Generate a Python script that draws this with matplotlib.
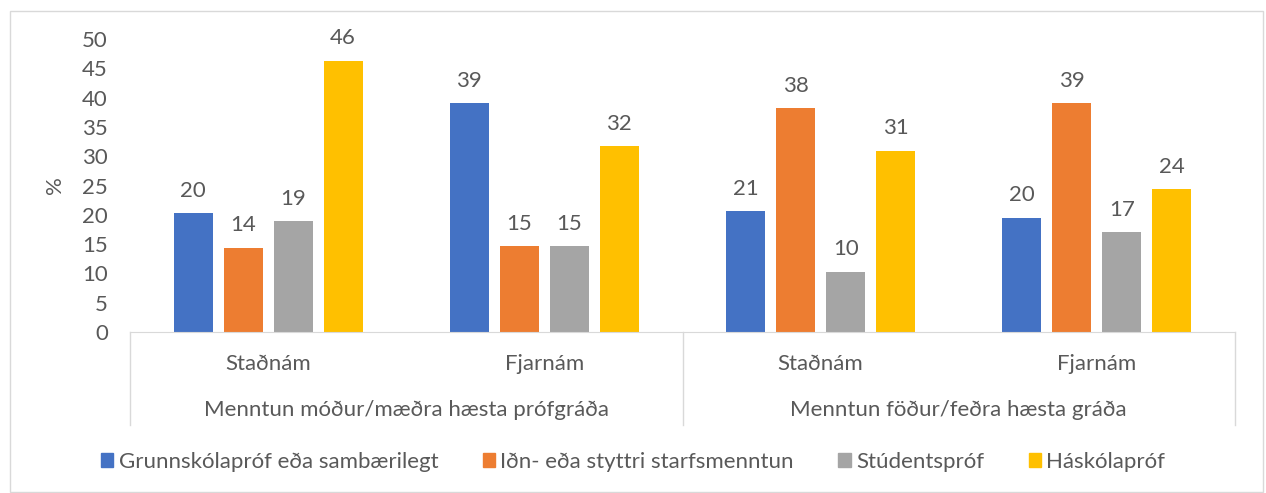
import numpy as np
import matplotlib.pyplot as plt
from matplotlib.patches import Rectangle, Patch

plt.rcParams['font.family'] = ['Lato', 'DejaVu Sans']

subgroups = ['Staðnám', 'Fjarnám', 'Staðnám', 'Fjarnám']
groups = ['Menntun móður/mæðra hæsta prófgráða', 'Menntun föður/feðra hæsta gráða']
series = ['Grunnskólapróf eða sambærilegt', 'Iðn- eða styttri starfsmenntun',
          'Stúdentspróf', 'Háskólapróf']
grunnskola = [20.3, 39.0, 20.6, 19.5]
idn = [14.4, 14.6, 38.2, 39.0]
studentsprof = [18.9, 14.6, 10.3, 17.0]
haskola = [46.3, 31.7, 30.9, 24.4]
colors = ['#4472C4', '#ED7D31', '#A5A5A5', '#FFC000']
txt = '#595959'
line_c = '#D9D9D9'
fs = 16

W, H = 1266, 493
fig = plt.figure(figsize=(W / 100, H / 100), dpi=100)
fig.patches.append(Rectangle((10 / W, 1 / H), 1253 / W, 481 / H, transform=fig.transFigure,
                             fill=False, edgecolor=line_c, linewidth=1))

ax = fig.add_axes([130 / W, 1 - 332 / H, 1105 / W, 293 / H])
x = np.arange(len(subgroups))
step = 0.181
width = 0.141
values = [grunnskola, idn, studentsprof, haskola]
for i, (vals, c) in enumerate(zip(values, colors)):
    pos = x + (i - 1.5) * step
    bars = ax.bar(pos, vals, width, color=c, label=series[i])
    for b, v in zip(bars, vals):
        ax.annotate(f'{v:.0f}', (b.get_x() + b.get_width() / 2, v), xytext=(0, 9),
                    textcoords='offset points', ha='center', va='bottom', fontsize=fs, color=txt)

ax.set_xlim(-0.5, 3.5)
ax.set_ylim(0, 50)
ax.set_yticks(range(0, 51, 5))
ax.tick_params(axis='y', length=0, labelsize=fs, labelcolor=txt, pad=16)
ax.set_xticks([])
for s in ['top', 'right', 'left']:
    ax.spines[s].set_visible(False)
ax.spines['bottom'].set_color(line_c)
ax.set_ylabel('%', fontsize=fs, color=txt, labelpad=12)

# multi-level category axis
for xv in [0, 0.5, 1]:
    ax.plot([xv, xv], [0, -93 / 293], transform=ax.transAxes, color=line_c, lw=1, clip_on=False)
for i, s in enumerate(subgroups):
    ax.text((i + 0.5) / 4, -32 / 293, s, transform=ax.transAxes, ha='center', va='center',
            fontsize=fs, color=txt)
for i, g in enumerate(groups):
    ax.text((i + 0.5) / 2, -78 / 293, g, transform=ax.transAxes, ha='center', va='center',
            fontsize=fs, color=txt)

handles = [Patch(color=c) for c in colors]
fig.legend(handles, series, loc='center', bbox_to_anchor=(0.5, 1 - 462 / H), ncol=4,
           frameon=False, fontsize=fs, labelcolor=txt, handlelength=0.55, handleheight=0.55,
           handletextpad=0.25, columnspacing=2.0)

fig.savefig('out.png', dpi=100)
